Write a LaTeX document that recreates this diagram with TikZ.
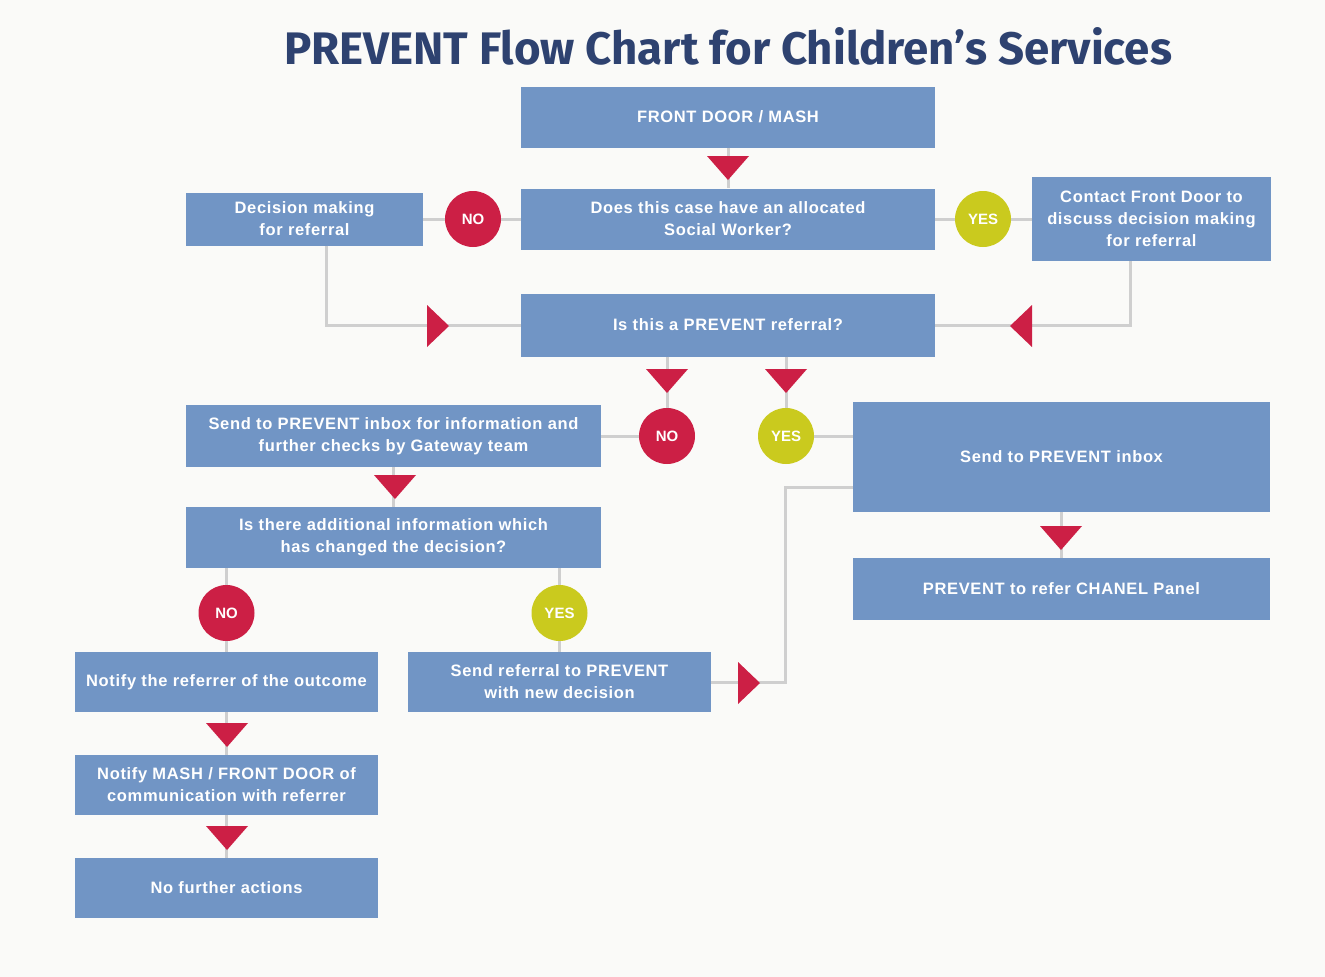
\documentclass[tikz,border=0pt]{standalone}
\usepackage{fontspec}
\setmainfont{Liberation Sans}
\newfontfamily\boxfont[LetterSpace=4]{Liberation Sans}
\newfontfamily\titlefont{Fira Sans}
\usetikzlibrary{calc}

\definecolor{boxblue}{HTML}{7195C5}
\definecolor{nored}{HTML}{CC1F45}
\definecolor{yesyellow}{HTML}{CACA1E}
\definecolor{titlenavy}{HTML}{2E4270}
\definecolor{linkgrey}{HTML}{CFCFCF}
\definecolor{paper}{HTML}{FAFAF8}

\tikzset{
  pbox/.style={rectangle, fill=boxblue, text=white, align=center,
    inner sep=0pt, font=\boxfont\bfseries\fontsize{16.5}{22}\selectfont},
  nocircle/.style={circle, fill=nored, text=white, minimum size=56pt,
    inner sep=0pt, font=\bfseries\fontsize{15}{18}\selectfont},
  yescircle/.style={nocircle, fill=yesyellow},
  link/.style={linkgrey, line width=3pt},
  arrowred/.style={fill=nored}
}

\begin{document}
\begin{tikzpicture}[x=1pt, y=-1pt]
        \fill[paper] (0,0) rectangle (1325,977);
        \useasboundingbox (0,0) rectangle (1325,977);

        % title
        \node[text=titlenavy, font=\titlefont\bfseries\fontsize{45.6}{52}\selectfont] (title) at (728,46)
            {PREVENT Flow Chart for Children’s Services};

        % boxes
        \node[pbox, minimum width=414pt, minimum height=61pt] (frontdoor) at (728,117) {FRONT DOOR / MASH};
        \node[pbox, minimum width=414pt, minimum height=61pt] (allocated) at (728,219) {Does this case have an allocated\\Social Worker?};
        \node[pbox, minimum width=237pt, minimum height=53pt] (decision) at (304.5,219) {Decision making\\for referral};
        \node[pbox, minimum width=239pt, minimum height=84pt] (contact) at (1151.5,219) {Contact Front Door to\\discuss decision making\\for referral};
        \node[pbox, minimum width=414pt, minimum height=63pt] (isprevent) at (728,325) {Is this a PREVENT referral?};
        \node[pbox, minimum width=415pt, minimum height=62pt] (gateway) at (393.5,436) {Send to PREVENT inbox for information and\\further checks by Gateway team};
        \node[pbox, minimum width=417pt, minimum height=110pt] (inbox) at (1061.5,457) {Send to PREVENT inbox};
        \node[pbox, minimum width=417pt, minimum height=62pt] (chanel) at (1061.5,589) {PREVENT to refer CHANEL Panel};
        \node[pbox, minimum width=415pt, minimum height=61pt] (additional) at (393.5,537.5) {Is there additional information which\\has changed the decision?};
        \node[pbox, minimum width=303pt, minimum height=60pt] (notify) at (226.5,682) {Notify the referrer of the outcome};
        \node[pbox, minimum width=303pt, minimum height=60pt] (newdec) at (559.5,682) {Send referral to PREVENT\\with new decision};
        \node[pbox, minimum width=303pt, minimum height=60pt] (mash) at (226.5,785) {Notify MASH / FRONT DOOR of\\communication with referrer};
        \node[pbox, minimum width=303pt, minimum height=60pt] (nofurther) at (226.5,888) {No further actions};

        % yes / no circles
        \node[nocircle] (noA) at (473,219) {NO};
        \node[yescircle] (yesA) at (983,219) {YES};
        \node[nocircle] (noB) at (667,436) {NO};
        \node[yescircle] (yesB) at (786,436) {YES};
        \node[nocircle] (noC) at (226.5,613) {NO};
        \node[yescircle] (yesC) at (559.5,613) {YES};
        \coordinate (bend) at (785,487);

        % connectors
        \draw[link] (frontdoor) -- (allocated);
        \draw[link] (allocated) -- (noA) -- (decision);
        \draw[link] (allocated) -- (yesA) -- (contact);
        \draw[link] ([xshift=22pt]decision.south) |- (isprevent);
        \draw[link] ([xshift=-21pt]contact.south) |- (isprevent);
        \draw[link] (isprevent.south -| noB) -- (noB) -- (gateway);
        \draw[link] (isprevent.south -| yesB) -- (yesB) -- (yesB -| inbox.west);
        \draw[link] (inbox) -- (chanel);
        \draw[link] (gateway) -- (additional);
        \draw[link] (additional.south -| noC) -- (noC) -- (notify);
        \draw[link] (additional.south -| yesC) -- (yesC) -- (newdec);
        \draw[link] (newdec.east) -| (bend) -- (bend -| inbox.west);
        \draw[link] (notify) -- (mash) -- (nofurther);

        % red arrow heads
        \foreach \x/\y in {728/168, 667/381, 786/381, 395/487, 1061/538, 227/735, 227/838} {
                \fill[arrowred] (\x,\y) +(-21,-12) -- +(21,-12) -- +(0,12) -- cycle;
            }
        \foreach \x/\y in {438/326, 749/683} {
                \fill[arrowred] (\x,\y) +(-11,-21) -- +(-11,21) -- +(11,0) -- cycle;
            }
        \fill[arrowred] (1021,326) +(11,-21) -- +(11,21) -- +(-11,0) -- cycle;
    \end{tikzpicture}
\end{document}
